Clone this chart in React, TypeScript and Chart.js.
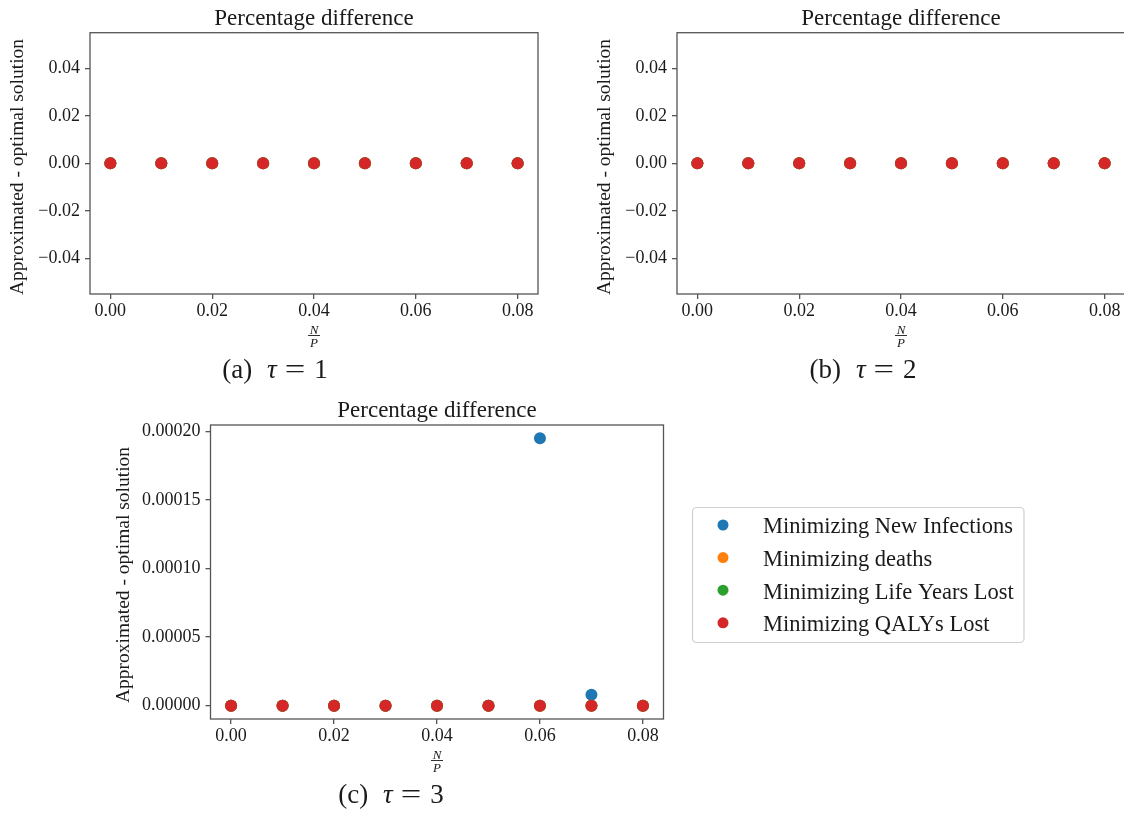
import React, { useEffect, useRef } from 'react';
import { Chart, registerables } from 'chart.js';

Chart.register(...registerables);

// ---------------- data ----------------
const npRatio = [0.0, 0.01, 0.02, 0.03, 0.04, 0.05, 0.06, 0.07, 0.08];

const seriesLabels = [
  'Minimizing New Infections',
  'Minimizing deaths',
  'Minimizing Life Years Lost',
  'Minimizing QALYs Lost',
];

// tau = 1
const tau1NewInfections = [0, 0, 0, 0, 0, 0, 0, 0, 0];
const tau1Deaths = [0, 0, 0, 0, 0, 0, 0, 0, 0];
const tau1LifeYears = [0, 0, 0, 0, 0, 0, 0, 0, 0];
const tau1Qalys = [0, 0, 0, 0, 0, 0, 0, 0, 0];

// tau = 2
const tau2NewInfections = [0, 0, 0, 0, 0, 0, 0, 0, 0];
const tau2Deaths = [0, 0, 0, 0, 0, 0, 0, 0, 0];
const tau2LifeYears = [0, 0, 0, 0, 0, 0, 0, 0, 0];
const tau2Qalys = [0, 0, 0, 0, 0, 0, 0, 0, 0];

// tau = 3
const tau3NewInfections = [0, 0, 0, 0, 0, 0, 0.000195, 0.000008, 0];
const tau3Deaths = [0, 0, 0, 0, 0, 0, 0, 0, 0];
const tau3LifeYears = [0, 0, 0, 0, 0, 0, 0, 0, 0];
const tau3Qalys = [0, 0, 0, 0, 0, 0, 0, 0, 0];

const xTicks = [0.0, 0.02, 0.04, 0.06, 0.08];
const yTicksTau12 = [-0.04, -0.02, 0.0, 0.02, 0.04];
const yTicksTau3 = [0.0, 0.00005, 0.0001, 0.00015, 0.0002];

const panelTitle = 'Percentage difference';
const yAxisTitle = 'Approximated - optimal solution';
const xFracNum = 'N';
const xFracDen = 'P';
const captionLetters = ['(a)', '(b)', '(c)'];
const tauValues = ['1', '2', '3'];

// ---------------- style ----------------
const palette = ['#1f77b4', '#ff7f0e', '#2ca02c', '#d62728'];
const FONT = "'Liberation Serif', 'DejaVu Serif', serif";
const TEXT = '#1a1a1a';
const SPINE = '#555555';
const W = 1124;
const H = 814;
const CW = 1150; // canvas a bit wider than the page, clipped by the container
const Y_AXIS_W = 80;
const X_AXIS_H = 60;

type Panel = {
  rect: [number, number, number, number];
  series: number[][];
  yMin: number;
  yMax: number;
  yTicks: number[];
  yDecimals: number;
  caption: string;
  tau: string;
  captionX: number;
  captionBaseline: number;
  ylabelX: number;
  ylabelY: number;
  legend: boolean;
};

function marginRange(values: number[][], frac: number): [number, number] {
  const all = values.flat();
  const lo = Math.min(...all);
  const hi = Math.max(...all);
  if (hi === lo) return [lo - 0.055, hi + 0.055];
  const m = (hi - lo) * frac;
  return [lo - m, hi + m];
}

const xRange = marginRange([npRatio], 0.05);

const tau1Series = [tau1NewInfections, tau1Deaths, tau1LifeYears, tau1Qalys];
const tau2Series = [tau2NewInfections, tau2Deaths, tau2LifeYears, tau2Qalys];
const tau3Series = [tau3NewInfections, tau3Deaths, tau3LifeYears, tau3Qalys];
const r1 = marginRange(tau1Series, 0.05);
const r2 = marginRange(tau2Series, 0.05);
const r3 = marginRange(tau3Series, 0.05);

const panels: Panel[] = [
  {
    rect: [90, 32.7, 538, 294],
    series: tau1Series,
    yMin: r1[0], yMax: r1[1],
    yTicks: yTicksTau12, yDecimals: 2,
    caption: captionLetters[0], tau: tauValues[0],
    captionX: 275, captionBaseline: 378,
    ylabelX: 22.7, ylabelY: 167,
    legend: false,
  },
  {
    rect: [677, 32.7, 1125, 294],
    series: tau2Series,
    yMin: r2[0], yMax: r2[1],
    yTicks: yTicksTau12, yDecimals: 2,
    caption: captionLetters[1], tau: tauValues[1],
    captionX: 863, captionBaseline: 378,
    ylabelX: 609.7, ylabelY: 167,
    legend: false,
  },
  {
    rect: [210.5, 425, 663.5, 719],
    series: tau3Series,
    yMin: r3[0], yMax: r3[1],
    yTicks: yTicksTau3, yDecimals: 5,
    caption: captionLetters[2], tau: tauValues[2],
    captionX: 391, captionBaseline: 802.5,
    ylabelX: 128.7, ylabelY: 575,
    legend: true,
  },
];

function fmt(v: number, d: number) {
  const s = Math.abs(v) < 1e-12 ? (0).toFixed(d) : v.toFixed(d);
  return s.replace('-', '\u2212');
}

const decorPlugin = {
  id: 'panelDecor',
  afterDraw(chart: any, _args: any, o: any) {
    const ctx: CanvasRenderingContext2D = chart.ctx;
    const { left, top, right, bottom } = chart.chartArea;
    ctx.save();
    // spines
    ctx.strokeStyle = SPINE;
    ctx.lineWidth = 1.3;
    ctx.strokeRect(left, top, right - left, bottom - top);

    // title
    ctx.fillStyle = TEXT;
    ctx.textAlign = 'center';
    ctx.textBaseline = 'alphabetic';
    ctx.font = `23px ${FONT}`;
    ctx.fillText(panelTitle, (left + right) / 2, top - 8);

    // y label
    ctx.save();
    ctx.translate(o.ylabelX, o.ylabelY);
    ctx.rotate(-Math.PI / 2);
    ctx.font = `19.5px ${FONT}`;
    ctx.fillText(yAxisTitle, 0, 0);
    ctx.restore();

    // x label N/P fraction
    const cx = (left + right) / 2;
    ctx.font = `italic 13px ${FONT}`;
    ctx.fillText(xFracNum, cx, bottom + 39.5);
    ctx.fillText(xFracDen, cx, bottom + 53);
    ctx.strokeStyle = TEXT;
    ctx.lineWidth = 0.9;
    ctx.beginPath();
    ctx.moveTo(cx - 6, bottom + 41.5);
    ctx.lineTo(cx + 6, bottom + 41.5);
    ctx.stroke();

    // caption "(a) τ = 1"
    const parts: [string, string, number][] = [
      [o.caption, `27px ${FONT}`, 15],
      ['\u03c4', `italic 27px ${FONT}`, 8],
      ['=', `27px ${FONT}`, 9],
      [o.tau, `27px ${FONT}`, 0],
    ];
    let total = 0;
    const widths: number[] = [];
    parts.forEach(([t, f, g]) => {
      ctx.font = f;
      const w = ctx.measureText(t).width * (t === '=' ? 1.35 : 1);
      widths.push(w);
      total += w + g;
    });
    let x = o.captionX - total / 2;
    ctx.textAlign = 'left';
    parts.forEach(([t, f, g], i) => {
      ctx.font = f;
      if (t === '=') {
        ctx.save();
        ctx.translate(x, o.captionBaseline);
        ctx.scale(1.35, 1);
        ctx.fillText(t, 0, 0);
        ctx.restore();
      } else {
        ctx.fillText(t, x, o.captionBaseline);
      }
      x += widths[i] + g;
    });

    // legend
    if (o.legend) {
      ctx.beginPath();
      (ctx as any).roundRect(692.5, 507.5, 331.5, 135, 4);
      ctx.fillStyle = 'rgba(255,255,255,0.85)';
      ctx.fill();
      ctx.strokeStyle = '#d0d0d0';
      ctx.lineWidth = 1.2;
      ctx.stroke();
      ctx.font = `22.5px ${FONT}`;
      ctx.textAlign = 'left';
      seriesLabels.forEach((lab, i) => {
        const yy = 525 + i * 32.6;
        ctx.beginPath();
        ctx.arc(723, yy, 5.5, 0, Math.PI * 2);
        ctx.fillStyle = palette[i];
        ctx.fill();
        ctx.fillStyle = TEXT;
        ctx.fillText(lab, 763, yy + 8.3);
      });
    }
    ctx.restore();
  },
};

function makeConfig(p: Panel): any {
  const [L, T, R, B] = p.rect;
  return {
    type: 'scatter',
    data: {
      datasets: p.series.map((vals, i) => ({
        label: seriesLabels[i],
        data: npRatio.map((xv, j) => ({ x: xv, y: vals[j] })),
        backgroundColor: palette[i],
        borderWidth: 0,
        pointRadius: 6,
        pointHoverRadius: 6,
        order: p.series.length - 1 - i,
      })),
    },
    options: {
      responsive: false,
      animation: false,
      events: [],
      layout: {
        padding: {
          left: L - Y_AXIS_W,
          top: T,
          right: CW - R,
          bottom: H - B - X_AXIS_H,
        },
      },
      plugins: {
        legend: { display: false },
        tooltip: { enabled: false },
        title: { display: false },
        panelDecor: {
          caption: p.caption,
          tau: p.tau,
          captionX: p.captionX,
          captionBaseline: p.captionBaseline,
          ylabelX: p.ylabelX,
          ylabelY: p.ylabelY,
          legend: p.legend,
        },
      },
      scales: {
        x: {
          type: 'linear',
          min: xRange[0],
          max: xRange[1],
          afterBuildTicks: (s: any) => {
            s.ticks = xTicks.map((v) => ({ value: v }));
          },
          afterFit: (s: any) => {
            s.height = X_AXIS_H;
            s.paddingLeft = 0;
            s.paddingRight = 0;
            s.paddingTop = 0;
            s.paddingBottom = 0;
          },
          border: { display: false },
          grid: {
            drawOnChartArea: false,
            drawTicks: true,
            tickLength: 5,
            color: SPINE,
            lineWidth: 1.3,
          },
          ticks: {
            autoSkip: false,
            maxRotation: 0,
            padding: 1,
            color: TEXT,
            font: { family: FONT, size: 18 },
            callback: (v: number) => fmt(v, 2),
          },
        },
        y: {
          type: 'linear',
          min: p.yMin,
          max: p.yMax,
          afterBuildTicks: (s: any) => {
            s.ticks = p.yTicks.map((v) => ({ value: v }));
          },
          afterFit: (s: any) => {
            s.width = Y_AXIS_W;
            s.paddingLeft = 0;
            s.paddingRight = 0;
            s.paddingTop = 0;
            s.paddingBottom = 0;
          },
          border: { display: false },
          grid: {
            drawOnChartArea: false,
            drawTicks: true,
            tickLength: 5,
            color: SPINE,
            lineWidth: 1.3,
          },
          ticks: {
            autoSkip: false,
            padding: 5,
            color: TEXT,
            font: { family: FONT, size: 18 },
            callback: (v: number) => fmt(v, p.yDecimals),
          },
        },
      },
    },
    plugins: [decorPlugin],
  };
}

function PanelCanvas({ panel }: { panel: Panel }) {
  const ref = useRef<HTMLCanvasElement | null>(null);
  useEffect(() => {
    if (!ref.current) return;
    const chart = new Chart(ref.current, makeConfig(panel));
    return () => chart.destroy();
  }, [panel]);
  return (
    <canvas
      ref={ref}
      width={CW}
      height={H}
      style={{ position: 'absolute', left: 0, top: 0, width: CW, height: H }}
    />
  );
}

export default function App() {
  return (
    <div
      style={{
        position: 'absolute',
        left: 0,
        top: 0,
        width: W,
        height: H,
        background: '#ffffff',
        overflow: 'hidden',
      }}
    >
      {panels.map((p, i) => (
        <PanelCanvas key={i} panel={p} />
      ))}
    </div>
  );
}
